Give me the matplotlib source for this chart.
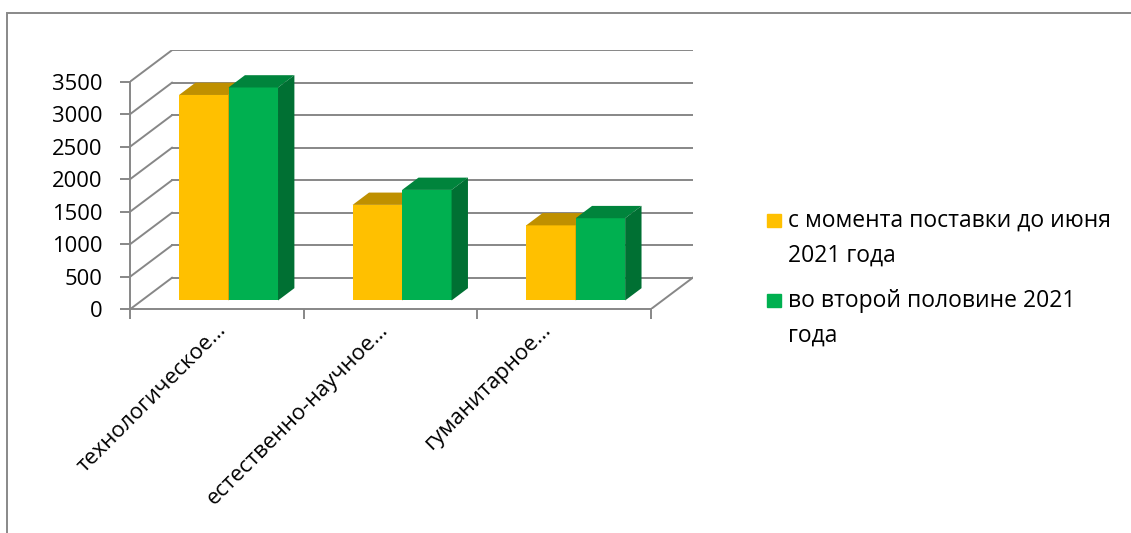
import matplotlib
matplotlib.use('Agg')
import matplotlib.pyplot as plt
from matplotlib.patches import Polygon, Rectangle

plt.rcParams['font.family'] = ['Open Sans', 'DejaVu Sans']

# data
categories = ['технологическое…', 'естественно-научное…', 'гуманитарное…']
series_names = ['с момента поставки до июня\n2021 года',
                'во второй половине 2021\nгода']
until_june = [3160, 1470, 1155]
second_half = [3275, 1700, 1265]
y_ticks = [0, 500, 1000, 1500, 2000, 2500, 3000, 3500]

# styles
front_colors = ['#FFC000', '#00B050']
top_colors = ['#BF9000', '#00843C']
side_colors = ['#A67C00', '#007033']
GRID = '#878787'
W, H = 1131, 533
DX, DY = 0.242, 485      # depth of the 3d box in data units
F0, F1 = 0.28, 0.67      # bar front / back as part of the depth
BAR_W = 0.285
FS = 15.8

n = len(categories)
fig = plt.figure(figsize=(W / 100, H / 100), dpi=100)
ax = fig.add_axes([130 / W, (H - 309.3) / H, (692.7 - 130) / W, (309.3 - 49.5) / H])
ax.set_xlim(0, n + DX)
ax.set_ylim(0, (309.3 - 49.5) / 65.03 * 1000)

# walls and floor
for v in y_ticks:
    ax.plot([0, DX], [v, v + DY], color=GRID, lw=1.4, zorder=1)
    ax.plot([DX, n + DX], [v + DY, v + DY], color=GRID, lw=1.4, zorder=1)
ax.plot([n, n + DX], [0, DY], color=GRID, lw=1.4, zorder=1)

for s in ['top', 'right']:
    ax.spines[s].set_visible(False)
for s in ['left', 'bottom']:
    ax.spines[s].set_color(GRID)
    ax.spines[s].set_linewidth(1.4)
ax.spines['left'].set_bounds(0, 3500)
ax.spines['bottom'].set_bounds(0, n)

ax.set_yticks(y_ticks)
ax.tick_params(axis='y', length=7, width=1.4, color=GRID, pad=13, labelsize=FS)
ax.set_xticks(range(n + 1), [''] * (n + 1))
# labels of the 3d chart sit a bit closer together than the category ticks
ax.set_xticks([0.58 + 0.933 * i for i in range(n)], categories, minor=True)
ax.tick_params(axis='x', which='major', length=7, width=1.4, color=GRID)
ax.tick_params(axis='x', which='minor', length=0, pad=7, labelsize=FS, labelrotation=45)
for lbl in ax.get_xticklabels(minor=True):
    lbl.set_ha('right')

# bars
base = F0 * DY
bdx, bdy = (F1 - F0) * DX, (F1 - F0) * DY
for k, vals in enumerate([until_june, second_half]):
    xs = [i + 0.5 - BAR_W + k * BAR_W + F0 * DX for i in range(n)]
    ax.bar(xs, vals, width=BAR_W, bottom=base, align='edge',
           color=front_colors[k], zorder=3 + k)
    for x0, v in zip(xs, vals):
        top = v + base
        ax.add_patch(Polygon([(x0, top), (x0 + BAR_W, top),
                              (x0 + BAR_W + bdx, top + bdy), (x0 + bdx, top + bdy)],
                             closed=True, color=top_colors[k], lw=0, zorder=3 + k))
        ax.add_patch(Polygon([(x0 + BAR_W, base), (x0 + BAR_W, top),
                              (x0 + BAR_W + bdx, top + bdy), (x0 + BAR_W + bdx, base + bdy)],
                             closed=True, color=side_colors[k], lw=0, zorder=3 + k))

# legend (text baseline given for the last line)
for k, name in enumerate(series_names):
    first_base = [229, 309.3][k]
    fig.add_artist(Rectangle((767 / W, 1 - (first_base - 2) / H), 14 / W, 13 / H,
                             transform=fig.transFigure, color=front_colors[k]))
    fig.text(788 / W, 1 - (first_base + 32.5) / H, name, va='baseline', ha='left',
             fontsize=16.5, linespacing=1.6)

# outer border
fig.add_artist(Rectangle((7 / W, -0.1), 1.2, (H - 13) / H + 0.1,
                         transform=fig.transFigure, fill=False, ec='#898989', lw=1.4))

fig.savefig('out.png', dpi=100)
